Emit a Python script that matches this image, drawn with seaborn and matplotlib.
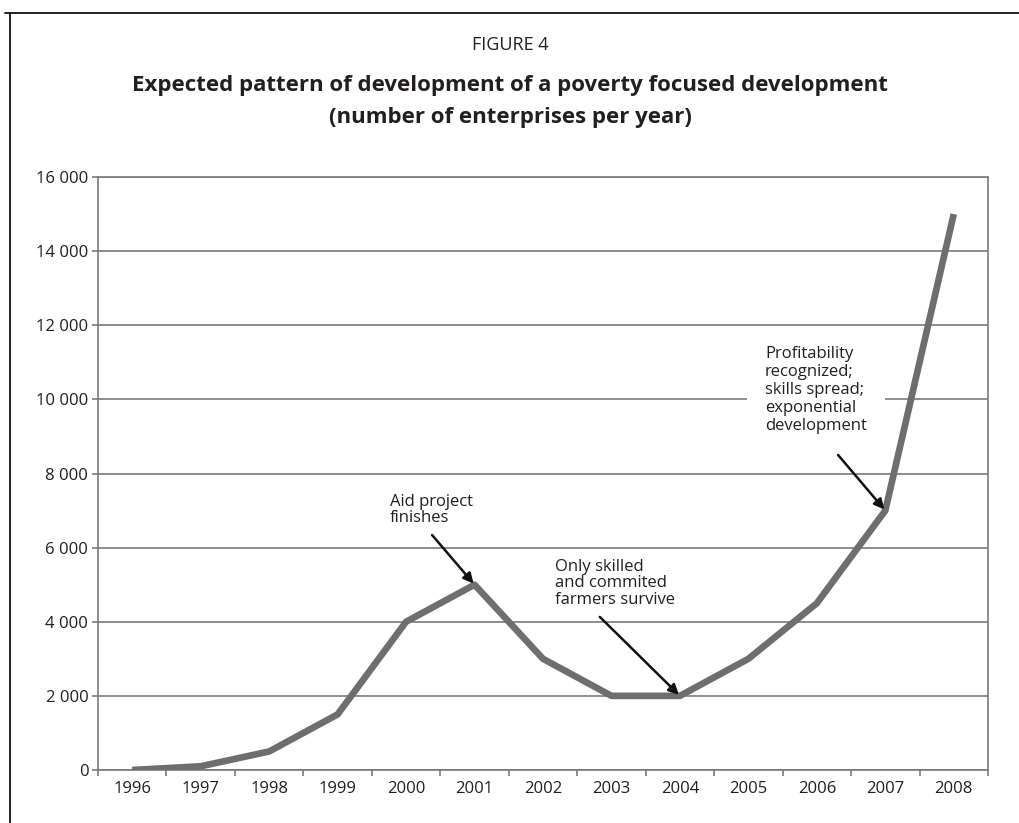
import matplotlib
matplotlib.use("Agg")
import matplotlib.pyplot as plt
import seaborn as sns
import pandas as pd
from matplotlib.lines import Line2D
from matplotlib.ticker import FuncFormatter

years = ["1996", "1997", "1998", "1999", "2000", "2001", "2002",
         "2003", "2004", "2005", "2006", "2007", "2008"]
enterprises = [0, 100, 500, 1500, 4000, 5000, 3000, 2000, 2000, 3000, 4500, 7000, 15000]
y_ticks = [0, 2000, 4000, 6000, 8000, 10000, 12000, 14000, 16000]

fig_title = "FIGURE 4"
main_title = "Expected pattern of development of a poverty focused development\n(number of enterprises per year)"
note_texts = ["Aid project\nfinishes",
              "Only skilled\nand commited\nfarmers survive",
              "Profitability\nrecognized;\nskills spread;\nexponential\ndevelopment"]
note_years = ["2001", "2004", "2007"]
note_values = [5000, 2000, 7000]

sns.set_theme(style="white")
plt.rcParams["font.family"] = ["Open Sans", "DejaVu Sans"]

df = pd.DataFrame({"year": years, "n": enterprises})

fig = plt.figure(figsize=(10.2, 8.23), dpi=100)
ax = fig.add_axes([98 / 1020, 1 - 770 / 823, (988 - 98) / 1020, (770 - 177) / 823])

grid_c = "#7a7a7a"
line_c = "#6e6e6e"
text_c = "#231f20"

for v in y_ticks:
    ax.axhline(v, color=grid_c, lw=1.2, zorder=0)

sns.lineplot(data=df, x="year", y="n", ax=ax, color=line_c, lw=4.8, sort=False,
             solid_capstyle="butt", zorder=3)

ax.set_xlim(-0.5, len(years) - 0.5)
ax.set_ylim(0, 16000)
ax.set_yticks(y_ticks)
ax.yaxis.set_major_formatter(FuncFormatter(lambda v, p: f"{int(v):,}".replace(",", " ")))
ax.set_xticks(range(len(years)))
ax.set_xticklabels(years)
ax.set_xticks([i - 0.5 for i in range(len(years) + 1)], minor=True)
ax.tick_params(axis="x", which="major", length=0, labelsize=12, labelcolor=text_c, pad=8)
ax.tick_params(axis="x", which="minor", length=4, width=1.2, color=grid_c, bottom=True)
ax.tick_params(axis="y", length=4, width=1.2, color=grid_c, labelsize=12, labelcolor=text_c, left=True, pad=3)
ax.set_xlabel("")
ax.set_ylabel("")
for s in ax.spines.values():
    s.set_color(grid_c)
    s.set_linewidth(1.2)

# annotations: text position (top-left) and arrow tail, in data coords
text_pos = [(3.765, 7450), (6.175, 5700), (9.243, 11450)]
arrow_tail = [(4.38, 6340), (6.83, 4130), (10.31, 8500)]
spacing = [1.05, 1.05, 1.17]
ann_style = dict(arrowstyle="-|>", color="#111111", lw=1.8, mutation_scale=15, shrinkA=0, shrinkB=1)
for i, t in enumerate(note_texts):
    kw = {}
    if i == 2:
        kw["bbox"] = dict(boxstyle="square,pad=1.1", fc="white", ec="none")
    ax.text(text_pos[i][0], text_pos[i][1], t, fontsize=12, color=text_c, ha="left", va="top",
            linespacing=spacing[i], zorder=4, **kw)
    ax.annotate("", xy=(years.index(note_years[i]), note_values[i]), xytext=arrow_tail[i],
                arrowprops=ann_style, zorder=5)

fig.text(0.5, 1 - 45 / 823, fig_title, ha="center", va="center", fontsize=13, color=text_c)
fig.text(0.5, 1 - 86 / 823, main_title.split("\n")[0], ha="center", va="center", fontsize=16,
         fontweight="bold", color=text_c)
fig.text(0.5, 1 - 118 / 823, main_title.split("\n")[1], ha="center", va="center", fontsize=16,
         fontweight="bold", color=text_c)

# outer frame (partially cropped)
fig.add_artist(Line2D([10 / 1020, 10 / 1020], [0, 1 - 13 / 823], color="#111111", lw=1.3,
                      transform=fig.transFigure))
fig.add_artist(Line2D([5 / 1020, 1], [1 - 13 / 823, 1 - 13 / 823], color="#111111", lw=1.3,
                      transform=fig.transFigure))

fig.savefig("out.png", dpi=100, facecolor="white")
